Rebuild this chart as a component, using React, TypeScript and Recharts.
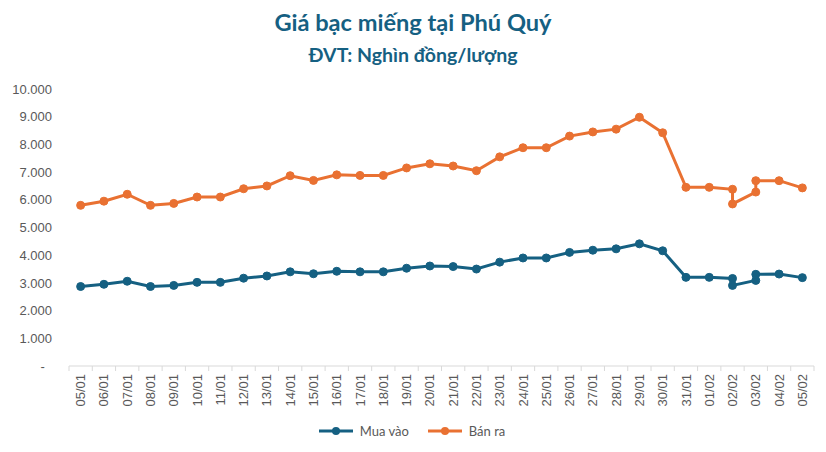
import { Line, LineChart, Legend, XAxis, YAxis } from "recharts";

const BLUE = "#156082";
const ORANGE = "#E97132";
const MUTED = "#595959";
const AXIS = "#D9D9D9";

// trading days shown on the axis
const DATES = [
  "05/01", "06/01", "07/01", "08/01", "09/01", "10/01", "11/01", "12/01",
  "13/01", "14/01", "15/01", "16/01", "17/01", "18/01", "19/01", "20/01",
  "21/01", "22/01", "23/01", "24/01", "25/01", "26/01", "27/01", "28/01",
  "29/01", "30/01", "31/01", "01/02", "02/02", "03/02", "04/02", "05/02",
];

// each price update (02/02 and 03/02 were adjusted twice in the day)
const POINT_DATES = [
  "05/01", "06/01", "07/01", "08/01", "09/01", "10/01", "11/01", "12/01",
  "13/01", "14/01", "15/01", "16/01", "17/01", "18/01", "19/01", "20/01",
  "21/01", "22/01", "23/01", "24/01", "25/01", "26/01", "27/01", "28/01",
  "29/01", "30/01", "31/01", "01/02", "02/02", "02/02", "03/02", "03/02",
  "04/02", "05/02",
];

const MUA_VAO = [
  2870, 2950, 3060, 2870, 2910, 3020, 3020, 3170, 3250, 3400, 3330, 3420,
  3400, 3400, 3530, 3610, 3590, 3500, 3750, 3900, 3900, 4100, 4180, 4230,
  4410, 4160, 3200, 3200, 3160, 2910, 3090, 3310, 3320, 3190,
];

const BAN_RA = [
  5800, 5950, 6200, 5800, 5870, 6100, 6100, 6400, 6500, 6870, 6700, 6900,
  6880, 6880, 7150, 7300, 7220, 7050, 7550, 7880, 7880, 8300, 8450, 8550,
  8980, 8420, 6450, 6450, 6380, 5850, 6280, 6690, 6690, 6430,
];

const Y_TICKS = [0, 1000, 2000, 3000, 4000, 5000, 6000, 7000, 8000, 9000, 10000];

const data = POINT_DATES.map((d, i) => ({
  x: DATES.indexOf(d),
  mua: MUA_VAO[i],
  ban: BAN_RA[i],
}));

// labels on whole days, tick marks half-way between them
const xTicks: number[] = [];
DATES.forEach((_, i) => xTicks.push(i - 0.5, i));
xTicks.push(DATES.length - 0.5);

function DateTick(props: any) {
  const { x, y, payload } = props;
  const v = payload.value as number;
  if (!Number.isInteger(v)) {
    return <line x1={x} x2={x} y1={y} y2={y + 5} stroke={AXIS} strokeWidth={1} />;
  }
  const ty = y + 8;
  return (
    <text
      x={x}
      y={ty}
      dy="0.35em"
      transform={`rotate(-90, ${x}, ${ty})`}
      textAnchor="end"
      fill={MUTED}
      fontSize={13}
      fontFamily="Liberation Sans, Arial, sans-serif"
    >
      {DATES[v]}
    </text>
  );
}

function LegendContent() {
  const items = [
    { name: "Mua vào", color: BLUE },
    { name: "Bán ra", color: ORANGE },
  ];
  return (
    <div
      style={{
        display: "flex",
        justifyContent: "center",
        gap: 18,
        height: 30,
        paddingBottom: 6,
        alignItems: "center",
        fontFamily: "Lato, sans-serif",
        fontSize: 13,
        color: MUTED,
      }}
    >
      {items.map((it) => (
        <span key={it.name} style={{ display: "flex", alignItems: "center", gap: 6 }}>
          <svg width={36} height={10}>
            <line x1={1} x2={35} y1={5} y2={5} stroke={it.color} strokeWidth={3} />
            <circle cx={18} cy={5} r={4} fill={it.color} />
          </svg>
          {it.name}
        </span>
      ))}
    </div>
  );
}

export default function App() {
  return (
    <div
      style={{
        position: "absolute",
        left: 0,
        top: 0,
        width: 826,
        height: 452,
        background: "#fff",
        fontFamily: "Lato, sans-serif",
      }}
    >
      <div
        style={{
          position: "absolute",
          top: 7,
          width: "100%",
          textAlign: "center",
          color: BLUE,
          fontWeight: 700,
          fontSize: 23.6,
          lineHeight: "30px",
        }}
      >
        Giá bạc miếng tại Phú Quý
      </div>
      <div
        style={{
          position: "absolute",
          top: 42,
          width: "100%",
          textAlign: "center",
          color: BLUE,
          fontWeight: 700,
          fontSize: 19.5,
          lineHeight: "26px",
        }}
      >
        ĐVT: Nghìn đồng/lượng
      </div>
      <LineChart
        width={826}
        height={452}
        data={data}
        margin={{ top: 89, right: 12, left: 9, bottom: 0 }}
      >
        <XAxis
          dataKey="x"
          type="number"
          domain={[-0.5, DATES.length - 0.5]}
          ticks={xTicks}
          interval={0}
          height={50}
          tickSize={0}
          tickMargin={0}
          tickLine={false}
          axisLine={{ stroke: AXIS }}
          tick={<DateTick />}
        />
        <YAxis
          domain={[0, 10000]}
          ticks={Y_TICKS}
          interval={0}
          width={60}
          tickSize={0}
          tickMargin={17}
          axisLine={false}
          tickLine={false}
          tick={{ fontSize: 13, fill: MUTED, fontFamily: "Liberation Sans, Arial, sans-serif" }}
          tickFormatter={(v: number) => (v === 0 ? "-\u00A0\u00A0" : (v / 1000).toFixed(3))}
        />
        <Legend verticalAlign="bottom" content={<LegendContent />} />
        <Line
          type="linear"
          dataKey="mua"
          name="Mua vào"
          stroke={BLUE}
          strokeWidth={3}
          dot={{ r: 4, fill: BLUE, stroke: BLUE, strokeWidth: 1 }}
          activeDot={false}
          isAnimationActive={false}
        />
        <Line
          type="linear"
          dataKey="ban"
          name="Bán ra"
          stroke={ORANGE}
          strokeWidth={3}
          dot={{ r: 4, fill: ORANGE, stroke: ORANGE, strokeWidth: 1 }}
          activeDot={false}
          isAnimationActive={false}
        />
      </LineChart>
    </div>
  );
}
